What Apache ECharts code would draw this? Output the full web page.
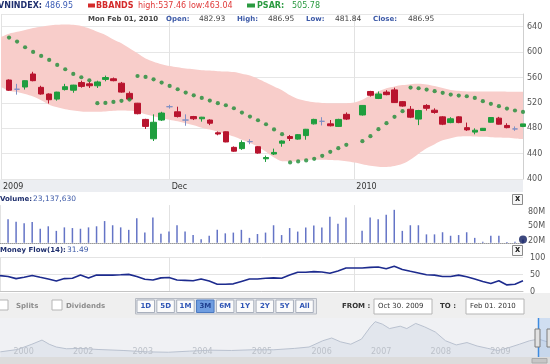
<!DOCTYPE html>
<html><head><meta charset="utf-8">
<script src="https://cdn.jsdelivr.net/npm/echarts@6/dist/echarts.min.js"></script>
<style>html,body{margin:0;padding:0;background:#fff;overflow:hidden}#c{width:550px;height:364px}</style>
</head><body><div id="c"></div>
<script>
// ---------- DATA ----------
const dates = ['2009-10-30',
 '2009-11-02','2009-11-03','2009-11-04','2009-11-05','2009-11-06','2009-11-09','2009-11-10','2009-11-11','2009-11-12','2009-11-13',
 '2009-11-16','2009-11-17','2009-11-18','2009-11-19','2009-11-20','2009-11-23','2009-11-24','2009-11-25','2009-11-26','2009-11-27','2009-11-30',
 '2009-12-01','2009-12-02','2009-12-03','2009-12-04','2009-12-07','2009-12-08','2009-12-09','2009-12-10','2009-12-11',
 '2009-12-14','2009-12-15','2009-12-16','2009-12-17','2009-12-18','2009-12-21','2009-12-22','2009-12-23','2009-12-24','2009-12-25',
 '2009-12-28','2009-12-29','2009-12-30','2009-12-31',
 '2010-01-04','2010-01-05','2010-01-06','2010-01-07','2010-01-08','2010-01-11','2010-01-12','2010-01-13','2010-01-14','2010-01-15',
 '2010-01-18','2010-01-19','2010-01-20','2010-01-21','2010-01-22','2010-01-25','2010-01-26','2010-01-27','2010-01-28','2010-01-29',
 '2010-02-01'];
const opens  = [null,556,541.5,545,565.5,544.5,534,526,541,540,552,550,547,557,558,551,535,519.5,494,463.5,493,514,506,493,498.5,495,493,473,474.5,450,448,459,451,432,439.5,456.5,467,463,468.5,487,491,487,483,502,null,501,538,527,537,540.5,522,510,494.5,516,508.5,498,489,498,481,474,476.5,489.5,496,484.5,479,482.93];
const closes = [null,540,541.5,555,555,534,525,537,545.5,548,546,547,553,560,555,537,526,503,483,489.5,504,514,498.5,493,495,497.5,488,471,458.5,444,457.5,459,441,434,442,460,464,470,478.5,494,491,484,494,494.5,null,516,532,534,533,520.5,515,497.5,508,511.5,505,486.5,495,489,477.5,477,480,497,486.5,481,479,486.95];
const lows   = [null,539,533,541,554,533,519,523.5,539.5,536,544,543.5,543.5,554,554,536,525,502,479,460,491.5,511,497,484,493,490.5,485,469,458,443,446,455,440,427,438,451,460,462,462,486,484.5,483,482,493,null,500,530,526,532,520,514,496,485,508,503,485,488,488,476,470.5,476,489,486,480,476,481.84];
const highs  = [null,557,550,555.5,569,547,535,537.5,550,548.5,555,553.5,555,563,560,553,538,520,495,502,506,517,514,502,499.5,498,494,475,475,451.5,461,463,452,437,448,461,469.5,471,479,495,497.5,493,495,505,null,516.5,539,538,540,544,523,515,509,518,511.5,499,497.5,499,489,480,480.5,497.5,498,488,483,486.95];
const bbUpper = [624,629,632,635,638,640,642,643,643.5,643,641,637,632,627,620,614,606,598,590,585,581,578,576,574,573,571.5,571,570,569.5,568.5,566,563,558,552,546,540,532,526,523,521,520,519.5,519.5,519.5,520.5,525,532,538,543,546,548,549.5,550,549,546.5,543.5,540.5,539,538,538,538,538,537.8,537.6,537.5,537.46];
const bbLower = [545,539,537,534,530,524,517,513,510,508,506.5,506,506,506.5,507.5,508,507.5,506,502,499,496,493.5,491,488,485,481,478,474.5,471,467,462,457,451,443,434,428,427.5,428.5,430,430.5,430.5,430,429.5,428,426,423.5,421,419.5,419,420.5,424,431,440,448.5,455,461,464.5,467,467.5,467,466.5,466,465.5,465,464,463.04];
const psar = [null,622.8,616.5,607.6,600.2,593.9,587.7,579.8,573,565.6,560.4,555.7,519.5,520,521.6,523.2,525.3,562.4,560.9,557.2,552,546.7,541.5,536.2,532,527.8,523.6,519.5,516.3,511.6,504.8,498.5,492.7,486.4,478.3,470.7,426.2,427.8,429.4,432,436.7,443,448.7,454,null,459.8,467.6,478.6,488.1,498,506.9,544.1,543.1,541,538.4,535.8,533.1,531.6,530.5,527.9,522.7,518.5,514.8,511.1,508,505.78];
// volume in millions of shares
const volumes = [null,64.2,59.2,56.4,58.5,45,50,40.7,47.8,46.4,45,47.8,50,60.6,52.1,47.8,42.8,66.3,37.2,67.7,35,39.3,52.1,39.3,32.2,23.6,30.8,42.8,35.7,37.2,42.8,26.5,34.3,37.2,52.1,32.2,46.4,39.3,47.8,51.4,47.8,69.2,55,67.7,null,40.7,67.7,64.2,73.4,83.4,40.7,52.1,52.1,33.6,33.6,37.9,30.8,32.2,37.9,26.5,18.5,30.8,30.8,18,18.5,23.13763];
const moneyFlow = [47,44.3,38.1,42.2,47.4,42.2,37.1,30.9,38.1,39.1,48.4,40.2,48.4,48.4,48.4,49.4,50.5,44.3,36,34,40.2,41.2,34,33,31.9,37.1,30.9,21.6,21.6,22.7,29.9,37.1,37.1,39.1,40.2,39.1,48.4,56.6,56.6,58.7,57.7,53.6,60.7,69,69,69,71,72.1,66.9,74.1,64.9,59.7,54.6,49.4,48.4,44.3,44.3,48.4,43.3,37.1,29.9,23.7,31.9,19.6,21.6,31.49];
const xTickDates  = ['2009-10-30','2009-11-30','2009-12-31'];
const xTickLabels = ['2009','Dec','2010'];
const volTickValues = [20,50,80];
const volTickLabels = ['20M','50M','80M'];
const navYears  = [2000.78,2001.07,2001.31,2001.48,2001.6,2001.72,2001.89,2002.13,2002.42,2002.84,2003.25,2003.6,2003.95,2004.31,2004.66,2005.01,2005.37,2005.72,2005.96,2006.19,2006.34,2006.49,2006.66,2006.84,2006.99,2007.07,2007.19,2007.31,2007.49,2007.6,2007.75,2007.9,2008.08,2008.25,2008.43,2008.61,2008.78,2008.96,2009.13,2009.31,2009.49,2009.66,2009.81,2009.96,2010.08];
const navValues = [169,247,419,556,419,328,270,283,247,214,169,156,192,224,214,237,237,283,328,533,624,497,419,588,988,1160,1079,933,1011,933,1102,988,819,533,396,474,361,283,214,306,419,533,588,497,487];
const navTickYears  = [2001,2002,2003,2004,2005,2006,2007,2008,2009];
const navTickLabels = ['2000','2002','2003','2004','2005','2006','2007','2008','2009'];
const rangeButtons = ['1D','5D','1M','3M','6M','1Y','2Y','5Y','All'];
const selectedRange = '3M';
const fromText = 'Oct 30. 2009', toText = 'Feb 01. 2010';

// ---------- BUILD ----------
const F = '"DejaVu Sans"';
const last = dates.length - 1;
const candleData = dates.map((d,i)=> opens[i]==null ? '-' : [opens[i], closes[i], lows[i], highs[i]]);
const bandWidth = bbUpper.map((u,i)=> +(u - bbLower[i]).toFixed(2));
const volDot = volumes.map((v,i)=> i===last ? v : '-');
const tickIdx = xTickDates.map(d=>dates.indexOf(d));
const navData = navYears.map((y,i)=>[y, navValues[i]]);
const f2 = v=>v.toFixed(2);

const hdr = [];
function T(text,x,y,size,color,bold,align){ hdr.push({type:'text',z:50,style:{text:text,x:x,y:y,fill:color,font:(bold?'bold ':'')+size+'px '+F,textVerticalAlign:'middle',textAlign:align||'left'}}); }
function R(x,y,w,h,fill,stroke,z){ hdr.push({type:'rect',z:z==null?40:z,shape:{x:x,y:y,width:w,height:h},style:{fill:fill,stroke:stroke||null,lineWidth:1}}); }

// row 1
T('VNINDEX:',-2,5.5,8,'#1f2f6e',true);
T(f2(closes[last]),45,5.5,8,'#3a5bb5',false);
R(88,3.5,7,4,'#d42a2a');
T('BBANDS',96,5.5,8,'#d42a2a',true);
T('high:'+f2(bbUpper[last])+' low:'+f2(bbLower[last]),138,5.5,8,'#e03a3a',false);
R(247,3.5,8,4,'#2a9a40');
T('PSAR:',257,5.5,8,'#2a9a40',true);
T(f2(psar[last]),292,5.5,8,'#2a9a40',false);
// row 2
T('Mon Feb 01, 2010',88,19.5,7,'#444',true);
const ohlc=[['Open:',opens[last],166,199],['High:',highs[last],237,268],['Low:',lows[last],306,335],['Close:',closes[last],373,408]];
ohlc.forEach(o=>{T(o[0],o[2],19.5,7,'#3d5aa8',true);T(f2(o[1]),o[3],19.5,7.5,'#444',false);});
// label strip
R(0,179.5,523,12.5,'#eceef2',null,-5);
// volume header
T('Volume:',0,199.5,7,'#1f2f6e',true);
T(Math.round(volumes[last]*1e6).toLocaleString('en-US'),33,199.5,7.5,'#3d5aa8',false);
R(512.5,194.5,10,10,'#f6f6f6','#8a8a8a');
T('x',517.5,199,8,'#222',true,'center');
// money flow header
T('Money Flow(14):',0,250.5,7,'#1f2f6e',true);
T(f2(moneyFlow[last]),67,250.5,7.5,'#3d5aa8',false);
R(512.5,245.5,10,10,'#f6f6f6','#8a8a8a');
T('x',517.5,250,8,'#222',true,'center');
// toolbar
R(0,293,550,25,'#efefef',null,-5);
R(-2,300,10,10,'#fff','#b5b5b5');
T('Splits',16,306,7,'#8c8c8c',true);
R(52,300,10,10,'#fff','#b5b5b5');
T('Dividends',66,306,7,'#8c8c8c',true);
R(135.5,298.5,181,15.5,'#e4e6ea','#b8bcc4');
rangeButtons.forEach((b,i)=>{
  const x=137+i*19.85, sel=b===selectedRange;
  R(x,300,17.5,12.5,sel?'#6f9de0':'#fbfbfb',sel?'#4a78c0':'#a9b0bd');
  T(b,x+8.75,306.5,7,sel?'#1f3f8f':'#2f55b5',true,'center');
});
T('FROM :',342,306,7,'#333',true);
R(374,299,58,15,'#fff','#b5b5b5');
T(fromText,378,306.5,7,'#333',false);
T('TO :',440,306,7,'#333',true);
R(466,299,58,15,'#fff','#b5b5b5');
T(toText,470,306.5,7,'#333',false);
// navigator selection + handles + scrollbar
R(538,318,12,39,'rgba(150,185,235,0.35)',null,30);
hdr.push({type:'line',z:31,shape:{x1:538.5,y1:318,x2:538.5,y2:357},style:{stroke:'#3d8be0',lineWidth:1.5}});
R(535,329,5,18,'#e2e2e2','#7d7d7d',32);
R(547,329,5,18,'#e2e2e2','#7d7d7d',32);
R(0,357,550,7,'#dcdcdc',null,30);
R(532,358.5,15,4.5,'#c6c6c6','#aaaaaa',31);

const grayTxt='#555';
const vSplit = {show:true, interval:(i)=>tickIdx.indexOf(i)>=0, lineStyle:{color:'#e2e2e2',width:1}};
const option = {
  animation:false,
  textStyle:{fontFamily:'DejaVu Sans'},
  grid:[
    {left:-4.1,right:27,top:14,height:165.1},
    {left:-4.1,right:27,top:205.1,height:37.7},
    {left:-4.1,right:27,top:257.5,height:34.1},
    {left:0,right:0,top:318,height:39,show:true,backgroundColor:'#f0f1f4',borderWidth:0}
  ],
  xAxis:[
    {type:'category',gridIndex:0,data:dates,boundaryGap:false,axisLine:{show:false},axisTick:{show:false},
     axisLabel:{interval:(i)=>tickIdx.indexOf(i)>=0,formatter:(v)=>xTickLabels[xTickDates.indexOf(v)],align:'left',padding:[0,0,0,2],margin:4,fontSize:8,color:'#333',fontFamily:'DejaVu Sans',showMinLabel:true},
     splitLine:vSplit},
    {type:'category',gridIndex:1,data:dates,boundaryGap:false,axisLine:{show:true,lineStyle:{color:'#9a9a9a',type:'dotted'}},axisTick:{show:false},axisLabel:{show:false},splitLine:vSplit},
    {type:'category',gridIndex:2,data:dates,boundaryGap:false,axisLine:{show:true,lineStyle:{color:'#c4c4c4'}},axisTick:{show:false},axisLabel:{show:false},splitLine:vSplit},
    {type:'value',gridIndex:3,min:2000.775,max:2010.003,z:10,axisLine:{show:false},axisTick:{show:false},splitLine:{show:false},
     axisLabel:{customValues:navTickYears,formatter:(v)=>navTickLabels[navTickYears.indexOf(v)],inside:true,margin:1,align:'left',fontSize:8,color:'#bcc1c9',verticalAlign:'bottom'}}
  ],
  yAxis:[
    {type:'value',gridIndex:0,position:'right',min:400,max:660,interval:40,
     axisLine:{show:true,lineStyle:{color:'#cfcfcf'}},axisTick:{show:false},
     axisLabel:{showMaxLabel:false,fontSize:8,color:grayTxt,margin:4},
     splitLine:{lineStyle:{color:'#e6e6e6'}}},
    {type:'value',gridIndex:1,position:'right',min:16.5,max:93,
     axisLine:{show:false},axisTick:{show:false},splitLine:{show:false},
     axisLabel:{customValues:volTickValues,formatter:(v)=>volTickLabels[volTickValues.indexOf(v)],fontSize:8,color:grayTxt,margin:5}},
    {type:'value',gridIndex:2,position:'right',min:0,max:100,interval:50,
     axisLine:{show:false},axisTick:{show:false},
     axisLabel:{fontSize:8,color:grayTxt,margin:7},splitLine:{lineStyle:{color:'#e4e4e4'}}},
    {type:'value',gridIndex:3,min:0,max:1280,show:false}
  ],
  series:[
    {type:'line',name:'bbLower',xAxisIndex:0,yAxisIndex:0,data:bbLower,stack:'bb',symbol:'none',smooth:0.3,lineStyle:{opacity:0},silent:true,z:1},
    {type:'line',name:'bbBand',xAxisIndex:0,yAxisIndex:0,data:bandWidth,stack:'bb',symbol:'none',smooth:0.3,lineStyle:{opacity:0},areaStyle:{color:'#f8cdca',opacity:1},silent:true,z:1},
    {type:'candlestick',xAxisIndex:0,yAxisIndex:0,data:candleData,barWidth:6,z:3,
     itemStyle:{color:'#1f9e3e',color0:'#b8142e',borderColor:'#1f9e3e',borderColor0:'#b8142e',borderColorDoji:'#7f8fc4',borderWidth:1}},
    {type:'scatter',xAxisIndex:0,yAxisIndex:0,data:psar,symbol:'circle',symbolSize:4.2,itemStyle:{color:'#1d8c36'},z:4},
    {type:'bar',xAxisIndex:1,yAxisIndex:1,data:volumes,barWidth:1.5,itemStyle:{color:'#6474c6'}},
    {type:'scatter',xAxisIndex:1,yAxisIndex:1,data:volDot,symbolSize:8,itemStyle:{color:'#0c1a5e'},clip:false,z:5},
    {type:'line',xAxisIndex:2,yAxisIndex:2,data:moneyFlow,symbol:'none',lineStyle:{color:'#1d2b8e',width:1.6},connectNulls:true},
    {type:'line',xAxisIndex:3,yAxisIndex:3,data:navData,symbol:'none',z:1,lineStyle:{color:'#b9c1cf',width:1},areaStyle:{color:'#e2e6ed',opacity:1}}
  ],
  graphic:hdr
};
const chart = echarts.init(document.getElementById('c'));
chart.setOption(option);
</script>
</body></html>
